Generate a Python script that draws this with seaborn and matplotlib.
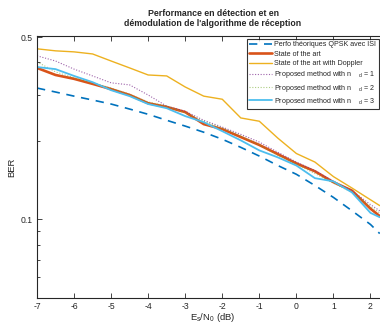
import matplotlib
matplotlib.use("Agg")
import matplotlib.pyplot as plt
import seaborn as sns
import pandas as pd
from matplotlib.ticker import FixedLocator, NullFormatter, FixedFormatter

sns.set_style("ticks")
plt.rcParams['font.family'] = ['Liberation Sans', 'DejaVu Sans']
plt.rcParams['mathtext.fontset'] = 'custom'
plt.rcParams['mathtext.rm'] = 'Liberation Sans'
plt.rcParams['mathtext.it'] = 'Liberation Sans'

snr_db = [-7, -6.5, -6, -5.5, -5, -4.5, -4, -3.5, -3, -2.5, -2, -1.5, -1, -0.5,
          0, 0.5, 1, 1.5, 2, 2.25]
ber_theory = [0.319, 0.308, 0.297, 0.287, 0.277, 0.265, 0.253, 0.240, 0.228, 0.216,
              0.203, 0.189, 0.175, 0.161, 0.149, 0.135, 0.1215, 0.108, 0.0957, 0.0883]
ber_sota = [0.381, 0.358, 0.346, 0.331, 0.316, 0.300, 0.279, 0.270, 0.258, 0.232,
            0.222, 0.207, 0.193, 0.178, 0.164, 0.153, 0.139, 0.129, 0.110, 0.103]
ber_sota_doppler = [0.451, 0.443, 0.439, 0.431, 0.405, 0.381, 0.358, 0.355, 0.322, 0.297,
                    0.289, 0.245, 0.238, 0.205, 0.179, 0.166, 0.146, 0.132, 0.119, 0.113]
ber_nd1 = [0.424, 0.405, 0.377, 0.355, 0.334, 0.328, 0.300, 0.272, 0.260, 0.240,
           0.226, 0.212, 0.198, 0.181, 0.166, 0.154, 0.140, 0.129, 0.114, 0.108]
ber_nd2 = [0.402, 0.368, 0.349, 0.334, 0.319, 0.302, 0.282, 0.272, 0.256, 0.238,
           0.224, 0.209, 0.193, 0.176, 0.163, 0.150, 0.138, 0.127, 0.112, 0.106]
ber_nd3 = [0.384, 0.377, 0.355, 0.336, 0.313, 0.297, 0.277, 0.267, 0.249, 0.236,
           0.218, 0.201, 0.184, 0.173, 0.161, 0.144, 0.140, 0.127, 0.106, 0.102]

labels = ["Perfo théoriques QPSK avec ISI",
          "State of the art",
          "State of the art with Doppler",
          "Proposed method with n    $_{d}$ = 1",
          "Proposed method with n    $_{d}$ = 2",
          "Proposed method with n    $_{d}$ = 3"]
series = [ber_theory, ber_sota, ber_sota_doppler, ber_nd1, ber_nd2, ber_nd3]
colors = ["#0072BD", "#D95319", "#EDB120", "#7E2F8E", "#77AC30", "#4DBEEE"]
styles = [(0, (5, 4)), "-", "-", (0, (1, 1.5)), (0, (1, 1.5)), "-"]
widths = [1.2, 1.9, 1.0, 0.8, 0.8, 1.3]
alphas = [1, 1, 1, 0.75, 0.6, 1]

fig = plt.figure(figsize=(3.8, 3.25), dpi=100)
ax = fig.add_axes([37/380, 27/325, 352/380, 262/325])

for lab, ys, c, ls, lw, a in zip(labels, series, colors, styles, widths, alphas):
    df = pd.DataFrame({"x": snr_db, "y": ys})
    sns.lineplot(data=df, x="x", y="y", ax=ax, color=c, linewidth=lw,
                 linestyle=ls, alpha=a, label=lab)

ax.set_yscale("log")
ax.set_xlim(-7, 2.5)
ax.set_ylim(0.05, 0.505)
ax.set_xticks([-7, -6, -5, -4, -3, -2, -1, 0, 1, 2])
ax.set_xticklabels(["-7", "-6", "-5", "-4", "-3", "-2", "-1", "0", "1", "2"])
ax.yaxis.set_major_locator(FixedLocator([0.1, 0.5]))
ax.yaxis.set_major_formatter(FixedFormatter(["0.1", "0.5"]))
ax.yaxis.set_minor_locator(FixedLocator([0.06, 0.07, 0.08, 0.09, 0.2, 0.3, 0.4]))
ax.yaxis.set_minor_formatter(NullFormatter())
ax.tick_params(axis="both", which="both", direction="in", top=True, right=True,
               labelsize=6.2, colors="#262626", width=0.6)
ax.tick_params(which="major", length=3.5, pad=3)
ax.tick_params(which="minor", length=2)
for s in ax.spines.values():
    s.set_color("#262626")
    s.set_linewidth(0.8)

ax.set_xlabel("E$_s$/N$_0$ (dB)", fontsize=6.8, color="#262626", labelpad=0)
ax.set_ylabel("BER", fontsize=6.8, color="#262626")
ax.yaxis.set_label_coords(-0.058, 0.5)
ax.set_title("Performance en détection et en\ndémodulation de l'algorithme de réception",
             fontsize=6.3, fontweight="bold", pad=7, linespacing=1.15)

leg = ax.legend(loc="upper left", bbox_to_anchor=(247/380, 286/325),
                bbox_transform=fig.transFigure, fontsize=5.1, frameon=True,
                fancybox=False, edgecolor="black", handlelength=3.2,
                handletextpad=0.3, borderpad=0.35, labelspacing=0.32, borderaxespad=0)
leg.get_frame().set_linewidth(0.8)

fig.savefig("out.png", dpi=100)
